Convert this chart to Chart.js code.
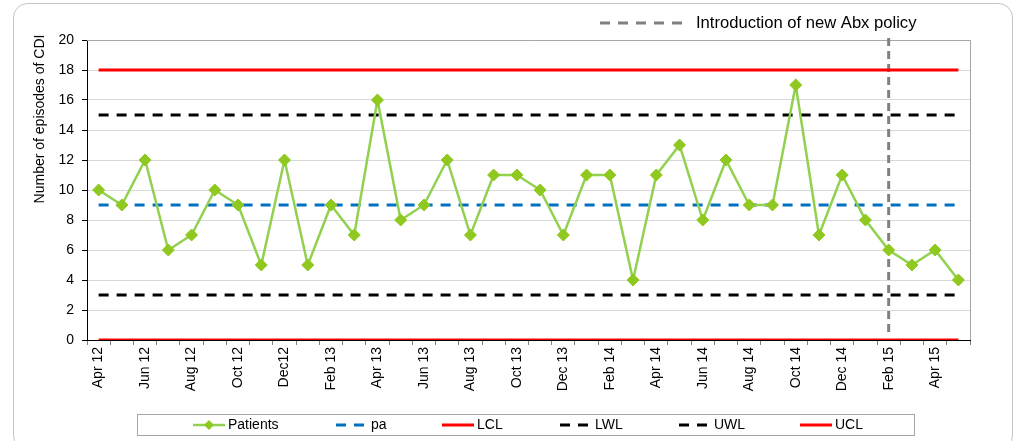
<!DOCTYPE html>
<html>
<head>
<meta charset="utf-8">
<script src="https://cdn.jsdelivr.net/npm/chart.js@4/dist/chart.umd.min.js"></script>
<style>
    html, body { margin: 0; padding: 0; background: #fff; }
    #wrap { width: 1022px; height: 441px; }
</style>
</head>
<body>
<div id="wrap"><canvas id="cdiChart" width="1022" height="441"></canvas></div>
<script>
// months Apr 12 .. May 15 (only every other one is labelled on the axis)
const months = ['Apr 12', 'May 12', 'Jun 12', 'Jul 12', 'Aug 12', 'Sep 12', 'Oct 12', 'Nov 12', 'Dec12', 'Jan 13',
    'Feb 13', 'Mar 13', 'Apr 13', 'May 13', 'Jun 13', 'Jul 13', 'Aug 13', 'Sep 13', 'Oct 13', 'Nov 13',
    'Dec 13', 'Jan 14', 'Feb 14', 'Mar 14', 'Apr 14', 'May 14', 'Jun 14', 'Jul 14', 'Aug 14', 'Sep 14',
    'Oct 14', 'Nov 14', 'Dec 14', 'Jan 15', 'Feb 15', 'Mar 15', 'Apr 15', 'May 15'];

const patients = [10, 9, 12, 6, 7, 10, 9, 5, 12, 5,
    9, 7, 16, 8, 9, 12, 7, 11, 11, 10,
    7, 11, 11, 4, 11, 13, 8, 12, 9, 9,
    17, 7, 11, 8, 6, 5, 6, 4];

// control chart levels
const paLevel = 9;
const lclLevel = 0;
const lwlLevel = 3;
const uwlLevel = 15;
const uclLevel = 18;

const yTicks = [0, 2, 4, 6, 8, 10, 12, 14, 16, 18, 20];
const policyMonth = 'Feb 15';

const level = (v) => months.map(() => v);

const FONT = 'Liberation Sans, Arial, sans-serif';

const extrasPlugin = {
    id: 'extras',
    beforeDraw: (chart) => {
        const ctx = chart.ctx;
        ctx.save();
        ctx.fillStyle = '#fff';
        ctx.fillRect(0, 0, chart.width, chart.height);
        // outer rounded frame
        ctx.strokeStyle = '#c4c4c4';
        ctx.lineWidth = 1;
        ctx.beginPath();
        ctx.roundRect(13.5, 3.5, 999, 446, 14);
        ctx.stroke();
        ctx.restore();
    },
    beforeDatasetsDraw: (chart) => {
        const ctx = chart.ctx;
        const area = chart.chartArea;
        ctx.save();
        // grey plot frame (top / right)
        ctx.strokeStyle = '#a6a6a6';
        ctx.lineWidth = 1;
        ctx.beginPath();
        ctx.moveTo(area.left, area.top + 0.5);
        ctx.lineTo(area.right + 0.5, area.top + 0.5);
        ctx.lineTo(area.right + 0.5, area.bottom);
        ctx.stroke();

        // policy line
        const x = chart.scales.x.getPixelForValue(months.indexOf(policyMonth));
        ctx.strokeStyle = '#808080';
        ctx.lineWidth = 3;
        ctx.setLineDash([8, 5]);
        ctx.beginPath();
        ctx.moveTo(x, area.top - 2);
        ctx.lineTo(x, area.bottom - 8);
        ctx.stroke();
        ctx.restore();
    },
    afterDraw: (chart) => {
        const ctx = chart.ctx;
        ctx.save();

        // y axis title
        ctx.save();
        ctx.translate(40, 119);
        ctx.rotate(-Math.PI / 2);
        ctx.fillStyle = '#000';
        ctx.font = '14px ' + FONT;
        ctx.textAlign = 'center';
        ctx.textBaseline = 'middle';
        ctx.fillText('Number of episodes of CDI', 0, 0);
        ctx.restore();

        // top legend for the policy line
        ctx.strokeStyle = '#808080';
        ctx.lineWidth = 3;
        ctx.setLineDash([10, 8]);
        ctx.beginPath();
        ctx.moveTo(600, 23);
        ctx.lineTo(686, 23);
        ctx.stroke();
        ctx.setLineDash([]);
        ctx.fillStyle = '#000';
        ctx.font = '16.6px ' + FONT;
        ctx.textAlign = 'left';
        ctx.textBaseline = 'middle';
        ctx.fillText('Introduction of new Abx policy', 696, 23);

        // bottom legend box
        ctx.strokeStyle = '#a6a6a6';
        ctx.lineWidth = 1;
        ctx.strokeRect(137.5, 414.5, 777, 21);

        const starts = [193, 336, 442, 560, 679, 800];
        const cy = 425;
        ctx.font = '14px ' + FONT;
        chart.data.datasets.forEach((ds, i) => {
            const x0 = starts[i];
            const w = 32;
            ctx.strokeStyle = ds.borderColor;
            ctx.lineWidth = ds.borderWidth;
            ctx.setLineDash(ds.borderDash || []);
            ctx.beginPath();
            ctx.moveTo(x0, cy);
            ctx.lineTo(x0 + w, cy);
            ctx.stroke();
            ctx.setLineDash([]);
            if (ds.pointRadius > 0) {
                ctx.fillStyle = ds.pointBackgroundColor;
                ctx.beginPath();
                ctx.moveTo(x0 + w / 2, cy - 5);
                ctx.lineTo(x0 + w / 2 + 5, cy);
                ctx.lineTo(x0 + w / 2, cy + 5);
                ctx.lineTo(x0 + w / 2 - 5, cy);
                ctx.closePath();
                ctx.fill();
            }
            ctx.fillStyle = '#000';
            ctx.fillText(ds.label, x0 + w + 3, cy);
        });
        ctx.restore();
    }
};

const canvas = document.getElementById('cdiChart');

const chart = new Chart(canvas, {
    type: 'line',
    data: {
        labels: months,
        datasets: [
            {
                label: 'Patients',
                data: patients,
                borderColor: '#92d050',
                borderWidth: 2.5,
                pointStyle: 'rectRot',
                pointRadius: 6,
                pointBackgroundColor: '#8fc81e',
                pointBorderColor: '#8fc81e',
                pointBorderWidth: 1,
                tension: 0
            },
            {
                label: 'pa',
                data: level(paLevel),
                borderColor: '#0070c0',
                borderWidth: 3,
                borderDash: [10, 8],
                pointRadius: 0
            },
            {
                label: 'LCL',
                data: level(lclLevel),
                borderColor: '#ff0000',
                borderWidth: 3,
                pointRadius: 0
            },
            {
                label: 'LWL',
                data: level(lwlLevel),
                borderColor: '#000000',
                borderWidth: 3,
                borderDash: [10, 8],
                pointRadius: 0
            },
            {
                label: 'UWL',
                data: level(uwlLevel),
                borderColor: '#000000',
                borderWidth: 3,
                borderDash: [10, 8],
                pointRadius: 0
            },
            {
                label: 'UCL',
                data: level(uclLevel),
                borderColor: '#ff0000',
                borderWidth: 3,
                pointRadius: 0
            }
        ]
    },
    options: {
        responsive: false,
        animation: false,
        layout: { padding: { left: 0, top: 40, right: 52, bottom: 0 } },
        plugins: {
            legend: { display: false },
            tooltip: { enabled: false }
        },
        scales: {
            x: {
                offset: true,
                grid: {
                    offset: true,
                    drawOnChartArea: false,
                    drawTicks: true,
                    tickLength: 5,
                    tickColor: '#808080'
                },
                border: { color: '#000', width: 1 },
                ticks: {
                    autoSkip: false,
                    minRotation: 90,
                    maxRotation: 90,
                    padding: 2,
                    color: '#000',
                    font: { family: FONT, size: 14 },
                    callback: function (value, index) {
                        return index % 2 === 0 ? this.getLabelForValue(value) : '';
                    }
                },
                afterFit: (scale) => { scale.height = 101; }
            },
            y: {
                min: 0,
                max: 20,
                afterBuildTicks: (scale) => {
                    scale.ticks = yTicks.map(v => ({ value: v }));
                },
                grid: {
                    color: '#d9d9d9',
                    lineWidth: 1,
                    tickLength: 5,
                    tickColor: '#000'
                },
                border: { color: '#000', width: 1 },
                ticks: {
                    padding: 8,
                    color: '#000',
                    font: { family: FONT, size: 14 }
                },
                afterFit: (scale) => { scale.width = 87; }
            }
        }
    },
    plugins: [extrasPlugin]
});
</script>
</body>
</html>
